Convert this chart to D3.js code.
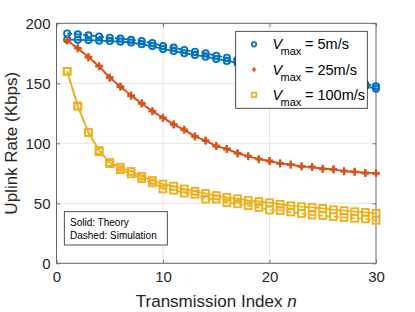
<!DOCTYPE html>
<html><head><meta charset="utf-8">
<script src="https://cdn.jsdelivr.net/npm/d3@7"></script>
<style>html,body{margin:0;padding:0;background:#fff;}svg{display:block;font-family:"Liberation Sans",Arial,sans-serif;}</style>
</head><body>
<svg id="c" width="415" height="312"></svg>
<script>
const n = d3.range(1, 31);
const blueTheory = [186.5,186.2,186,185.5,185.2,184.7,184,182.5,181,178.5,177,175,173.6,172.2,170.3,168.6,167,165.4,163.8,162.2,160.6,159,157.4,155.8,154.2,152.6,151,149.4,147.5,145.5];
const blueSim = [191.5,190.8,190,189,188,187.3,186.2,185.2,183.5,181,179.7,177.8,176.3,175,173,171.3,169.6,167.9,166.2,164.5,162.8,161.1,159.4,157.7,156,154.3,152.6,150.9,149.2,147.5];
const orangeTheory = [186,179,172,164,155,147,140,133,127,121,116,111,106,102,98,95,92,89,87,85,83.5,82,81,80,79,78,77,76,75.5,75];
const orangeSim = [185.5,179.5,171.5,164.5,154.5,147.5,139.5,133.5,126.5,121.5,115.5,111.5,105.5,102.5,97.5,95.5,91.5,89.5,86.5,85.5,83,82.5,80.5,80.5,78.5,78.5,76.5,76.5,75,75];
const yellowTheory = [160,131,109,94,84,80,76.5,72.5,69,66,64.3,62,60,58.3,56.5,55,53.8,52.5,51.5,50.5,49.2,48,47.2,46.6,45.8,44.6,43.9,43,42.5,41.6];
const yellowSim = [160,131,109,93,83,78,74.5,70.5,67,62,61,58.5,57.5,53.5,53.5,50.5,49.5,48,46.5,44.4,44,42.7,41.5,40.2,39.8,38.9,38.2,37.5,37,35.8];
const xTicks = [0,10,20,30];
const yTicks = [0,50,100,150,200];
const legendLabels = ["5m/s","25m/s","100m/s"];
const colors = ["#0072BD","#D95319","#EDB120"];

const svg = d3.select("#c");
const L=56.5, R=376, T=23.3, B=263.3;
const x = d3.scaleLinear().domain([0,30]).range([L,R]);
const y = d3.scaleLinear().domain([0,200]).range([B,T]);

// grid
const g = svg.append("g");
g.selectAll(".gx").data(xTicks.slice(1,-1)).join("line")
  .attr("x1",d=>x(d)).attr("x2",d=>x(d)).attr("y1",T).attr("y2",B)
  .attr("stroke","#e6e6e6").attr("stroke-width",1);
g.selectAll(".gy").data(yTicks.slice(1,-1)).join("line")
  .attr("y1",d=>y(d)).attr("y2",d=>y(d)).attr("x1",L).attr("x2",R)
  .attr("stroke","#e6e6e6").attr("stroke-width",1);

// axes
const axColor="#262626";
function styleAxis(sel, labels){
  sel.select(".domain").remove();
  sel.selectAll(".tick line").attr("stroke","#555").attr("stroke-width",0.8);
  sel.selectAll(".tick text").attr("fill",axColor).style("font-size","15px");
  if(!labels) sel.selectAll(".tick text").remove();
}
svg.append("g").attr("transform",`translate(0,${B})`)
  .call(d3.axisBottom(x).tickValues(xTicks).tickSize(-3.5).tickPadding(8).tickFormat(d3.format("d")))
  .call(s=>styleAxis(s,true));
svg.append("g").attr("transform",`translate(0,${T})`)
  .call(d3.axisTop(x).tickValues(xTicks).tickSize(-3.5)).call(s=>styleAxis(s,false));
svg.append("g").attr("transform",`translate(${L},0)`)
  .call(d3.axisLeft(y).tickValues(yTicks).tickSize(-3.5).tickPadding(6).tickFormat(d3.format("d")))
  .call(s=>styleAxis(s,true));
svg.append("g").attr("transform",`translate(${R},0)`)
  .call(d3.axisRight(y).tickValues(yTicks).tickSize(-3.5)).call(s=>styleAxis(s,false));
svg.selectAll("g text").attr("font-family","Liberation Sans, Arial, sans-serif");

svg.append("rect").attr("x",L).attr("y",T).attr("width",R-L).attr("height",B-T)
  .attr("fill","none").attr("stroke","#666").attr("stroke-width",1);

// markers
function drawMarker(sel, type, color, size, sw){
  if(type==="o"){
    sel.append("circle").attr("r",size/2).attr("fill","none").attr("stroke",color).attr("stroke-width",sw);
  } else if(type==="+"){
    sel.append("path").attr("d",`M${-size/2},0H${size/2}M0,${-size/2}V${size/2}`).attr("stroke",color).attr("stroke-width",sw).attr("fill","none");
  } else {
    sel.append("rect").attr("x",-size/2).attr("y",-size/2).attr("width",size).attr("height",size)
      .attr("fill","none").attr("stroke",color).attr("stroke-width",sw);
  }
}
const series = [
  {vals:blueTheory, c:colors[0], m:"o", dash:null},
  {vals:blueSim, c:colors[0], m:"o", dash:"5,3"},
  {vals:orangeTheory, c:colors[1], m:"+", dash:null},
  {vals:orangeSim, c:colors[1], m:"+", dash:"5,3"},
  {vals:yellowTheory, c:colors[2], m:"s", dash:null},
  {vals:yellowSim, c:colors[2], m:"s", dash:"5,3"}
];
const line = d3.line().x((d,i)=>x(n[i])).y(d=>y(d));
const plot = svg.append("g");
series.forEach(s=>{
  plot.append("path").datum(s.vals).attr("d",line).attr("fill","none")
    .attr("stroke",s.c).attr("stroke-width",1.8).attr("stroke-dasharray",s.dash);
  s.vals.forEach((v,i)=>{
    const mg = plot.append("g").attr("transform",`translate(${x(n[i])},${y(v)})`);
    const sz = s.m==="o"?6.2:(s.m==="+"?7.5:6.8);
    drawMarker(mg, s.m, s.c, sz, s.m==="+"?2.2:1.9);
  });
});

// legend
const lg = svg.append("g");
lg.append("rect").attr("x",235.7).attr("y",31.3).attr("width",131.6).attr("height",77)
  .attr("fill","#fff").attr("stroke","#262626").attr("stroke-width",0.8);
const rowsY=[44.3,69.5,94.8];
legendLabels.forEach((lab,i)=>{
  const mg = lg.append("g").attr("transform",`translate(254,${rowsY[i]})`);
  drawMarker(mg, ["o","+","s"][i], colors[i], 4.5, 1.7);
  const t = lg.append("text").attr("x",272.5).attr("y",rowsY[i]+5).attr("fill","#000").style("font-size","14.5px");
  t.append("tspan").text("V").style("font-style","italic");
  t.append("tspan").text("max").attr("x",280.5).attr("dy",6).style("font-size","11px");
  t.append("tspan").text("= "+lab).attr("x",305).attr("dy",-6);
});

// text box
svg.append("rect").attr("x",64.3).attr("y",211.7).attr("width",103).attr("height",33.3)
  .attr("fill","#fff").attr("stroke","#262626").attr("stroke-width",0.8);
svg.append("text").attr("x",70).attr("y",226).style("font-size","10px").attr("fill","#000").text("Solid: Theory");
svg.append("text").attr("x",70).attr("y",238.5).style("font-size","10px").attr("fill","#000").text("Dashed: Simulation");

// axis labels
svg.append("text").attr("transform",`translate(17,${(T+B)/2}) rotate(-90)`).attr("text-anchor","middle")
  .style("font-size","17px").attr("fill",axColor).text("Uplink Rate (Kbps)");
const xl = svg.append("text").attr("x",(L+R)/2).attr("y",306.5).attr("text-anchor","middle")
  .style("font-size","17px").attr("fill",axColor);
xl.append("tspan").text("Transmission Index ");
xl.append("tspan").text("n").style("font-style","italic");
</script>
</body></html>
